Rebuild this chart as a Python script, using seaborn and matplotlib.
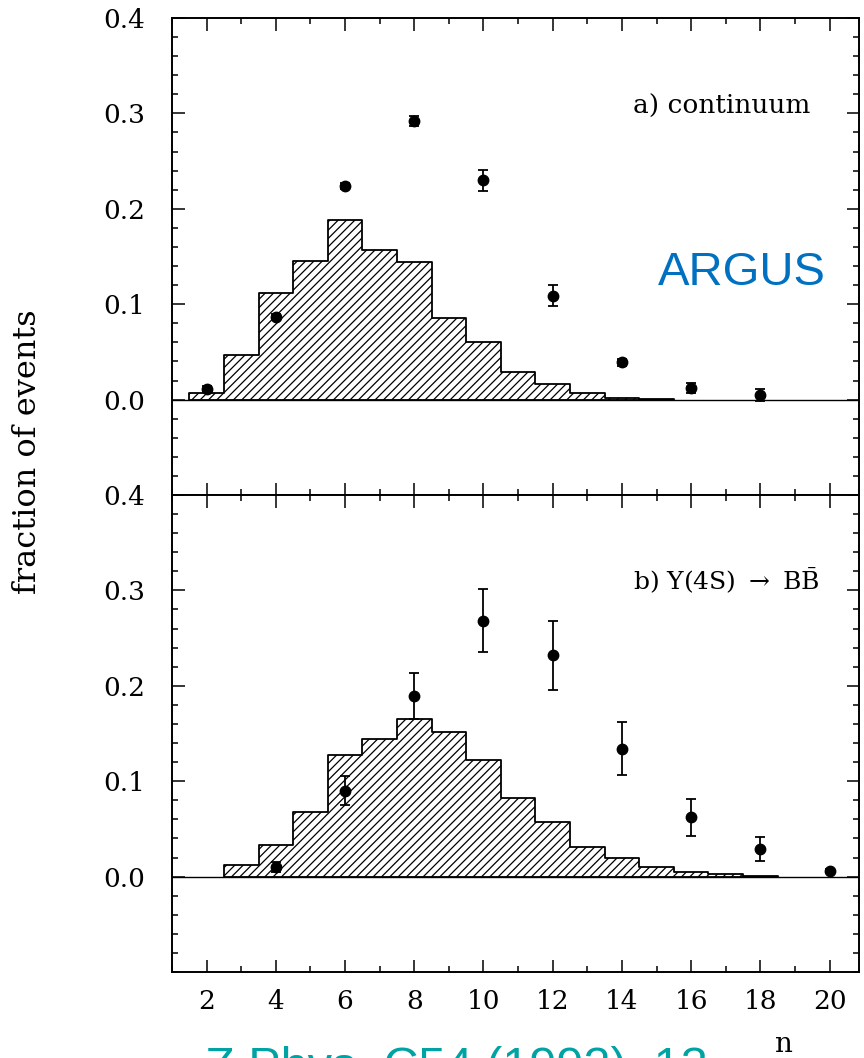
import numpy as np
import pandas as pd
import matplotlib
matplotlib.use("Agg")
import matplotlib.pyplot as plt
import seaborn as sns
from matplotlib.ticker import MultipleLocator, FixedLocator

# ---- charged multiplicity distributions (fraction of events vs n) ----
# a) continuum: simulated histogram (bins centred on integer n)
cont_hist_n = [2, 3, 4, 5, 6, 7, 8, 9, 10, 11, 12, 13, 14, 15]
cont_hist_frac = [0.007, 0.047, 0.112, 0.145, 0.188, 0.157, 0.144, 0.086,
                  0.060, 0.029, 0.016, 0.007, 0.002, 0.001]
# a) continuum: measured points
cont_n = [2, 4, 6, 8, 10, 12, 14, 16, 18]
cont_frac = [0.011, 0.087, 0.224, 0.292, 0.230, 0.109, 0.039, 0.012, 0.005]
cont_err = [0.003, 0.003, 0.003, 0.005, 0.011, 0.011, 0.004, 0.005, 0.006]

# b) Upsilon(4S) -> B Bbar: simulated histogram
bb_hist_n = [3, 4, 5, 6, 7, 8, 9, 10, 11, 12, 13, 14, 15, 16, 17, 18]
bb_hist_frac = [0.0125, 0.033, 0.068, 0.127, 0.144, 0.165, 0.152, 0.122,
                0.0825, 0.057, 0.0315, 0.0195, 0.010, 0.005, 0.003, 0.001]
# b) measured points
bb_n = [4, 6, 8, 10, 12, 14, 16, 18, 20]
bb_frac = [0.010, 0.090, 0.189, 0.268, 0.232, 0.134, 0.062, 0.029, 0.0055]
bb_err = [0.005, 0.015, 0.024, 0.033, 0.036, 0.028, 0.019, 0.013, 0.002]

y_ticks = [0.0, 0.1, 0.2, 0.3, 0.4]
x_ticks = [2, 4, 6, 8, 10, 12, 14, 16, 18, 20]
panel_labels = ["a) continuum",
                r"b) $\Upsilon$(4S) $\rightarrow$ B$\bar{\mathrm{B}}$"]

sns.set_theme(style="ticks")
plt.rcParams["font.family"] = ["DejaVu Serif"]
plt.rcParams["mathtext.fontset"] = "dejavuserif"
plt.rcParams["text.color"] = "black"
plt.rcParams["xtick.color"] = "black"
plt.rcParams["ytick.color"] = "black"
plt.rcParams["hatch.linewidth"] = 0.9
plt.rcParams["hatch.color"] = "black"

W, H = 864, 1058
fig = plt.figure(figsize=(W / 100, H / 100), dpi=100)


def fx(px):
    return px / W


def fy(py):
    return 1 - py / H


left, right = 172, 859
ax_top = fig.add_axes([fx(left), fy(495), (right - left) / W, 477 / H])
ax_bot = fig.add_axes([fx(left), fy(972), (right - left) / W, 477 / H])

hist_top = pd.DataFrame({"n": cont_hist_n, "frac": cont_hist_frac})
hist_bot = pd.DataFrame({"n": bb_hist_n, "frac": bb_hist_frac})

panels = [
    (ax_top, hist_top, cont_n, cont_frac, cont_err),
    (ax_bot, hist_bot, bb_n, bb_frac, bb_err),
]

for ax, hdf, pn, pf, pe in panels:
    sns.histplot(data=hdf, x="n", weights="frac", discrete=True,
                 element="step", fill=True, facecolor="white",
                 edgecolor="black", linewidth=1.3, alpha=1.0, ax=ax)
    for coll in ax.collections:
        coll.set_hatch("////")
        coll.set_edgecolor("black")
    ax.axhline(0, color="black", lw=1.0, zorder=1)
    ax.errorbar(pn, pf, yerr=pe, fmt="o", ms=7.5, color="black",
                ecolor="black", elinewidth=1.3, capsize=3.5, capthick=1.3,
                zorder=5)
    ax.set_xlim(1, 20.85)
    ax.set_ylim(-0.1, 0.4)
    ax.set_xlabel("")
    ax.set_ylabel("")
    ax.yaxis.set_major_locator(FixedLocator(y_ticks))
    ax.yaxis.set_minor_locator(MultipleLocator(0.02))
    ax.xaxis.set_major_locator(FixedLocator(x_ticks))
    ax.xaxis.set_minor_locator(MultipleLocator(1))
    ax.tick_params(which="both", direction="in", top=True, right=True,
                   bottom=True, left=True, width=1.1, color="black",
                   labelcolor="black")
    ax.tick_params(which="major", length=9)
    ax.tick_params(which="minor", length=4.5)
    ax.tick_params(axis="y", labelsize=19, pad=19)
    ax.tick_params(axis="x", labelsize=19, pad=12)
    ax.set_yticklabels([f"{v:.1f}" for v in y_ticks])
    for sp in ax.spines.values():
        sp.set_linewidth(1.4)
        sp.set_color("black")
        sp.set_visible(True)

ax_top.tick_params(axis="x", labelbottom=False)
ax_bot.set_xticklabels([str(v) for v in x_ticks])

fig.text(fx(633), fy(106), panel_labels[0], fontsize=19, ha="left",
         va="center", color="black")
fig.text(fx(633), fy(580), panel_labels[1], fontsize=18, ha="left",
         va="center", color="black")

fig.text(fx(28), fy(452), "fraction of events", rotation=90, fontsize=23,
         ha="center", va="center", color="black")
fig.text(fx(783), fy(1045), "n", fontsize=20, ha="center", va="center",
         color="black")

fig.text(fx(658), fy(285), "ARGUS", family="Liberation Sans",
         color="#0070C0", fontsize=34, ha="left", va="baseline")
fig.text(fx(205), fy(1046), "Z.Phys. C54 (1992), 13",
         family="Liberation Sans", color="#00A3A3", fontsize=35,
         ha="left", va="top")

fig.savefig("out.png", dpi=100, facecolor="white")
